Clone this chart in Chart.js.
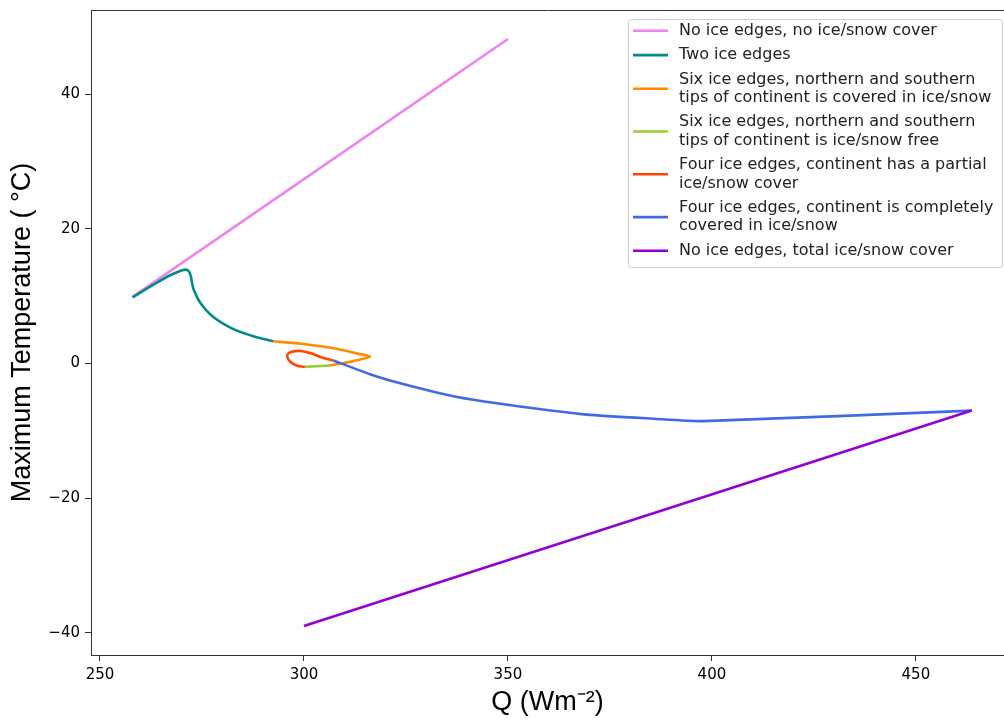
<!DOCTYPE html>
<html>
<head>
<meta charset="utf-8">
<script src="https://cdn.jsdelivr.net/npm/chart.js@4.4.1/dist/chart.umd.min.js"></script>
<style>
  html, body { margin: 0; padding: 0; background: #fff; }
  canvas { display: block; }
</style>
</head>
<body>
<canvas id="myChart" width="1004" height="720"></canvas>
<script>
// series labels (legend), wrapped like the original
const seriesLabels = [
  ["No ice edges, no ice/snow cover"],
  ["Two ice edges"],
  ["Six ice edges, northern and southern", "tips of continent is covered in ice/snow"],
  ["Six ice edges, northern and southern", "tips of continent is ice/snow free"],
  ["Four ice edges, continent has a partial", "ice/snow cover"],
  ["Four ice edges, continent is completely", "covered in ice/snow"],
  ["No ice edges, total ice/snow cover"]
];
const seriesColors = ['#ee82ee', '#008b8b', '#ff8c00', '#9acd32', '#ff4500', '#4169e1', '#9400d3'];
const seriesTension = [0, 0.3, 0.2, 0, 0.4, 0.2, 0];

// Q (W m-2) and max temperature (C)
const pinkQ = [258.0, 350.0];
const pinkT = [9.9, 48.2];

const tealQ = [258.0, 263.1, 267.2, 270.4, 271.6, 272.2, 272.5, 272.9, 274.5, 277.8, 282.7, 287.6, 292.5];
const tealT = [9.8, 11.7, 13.1, 13.9, 13.8, 13.1, 12.2, 11.1, 9.1, 6.9, 5.1, 4.05, 3.3];

const orangeQ = [292.5, 299.8, 308.0, 312.9, 316.2, 312.1, 308.8, 306.4];
const orangeT = [3.3, 2.9, 2.2, 1.5, 1.0, 0.35, -0.05, -0.3];

const greenQ = [306.4, 300.2];
const greenT = [-0.3, -0.5];

const redQ = [300.2, 298.2, 296.6, 295.9, 296.2, 297.4, 299.3, 301.5, 303.9, 305.8, 307.2];
const redT = [-0.5, -0.3, 0.3, 1.0, 1.5, 1.8, 1.85, 1.55, 1.0, 0.65, 0.45];

const blueQ = [307.2, 316.2, 322.7, 332.5, 341.5, 352.9, 369.3, 385.6, 397.9, 463.7];
const blueT = [0.45, -1.6, -2.8, -4.3, -5.4, -6.4, -7.6, -8.2, -8.56, -7.0];

const purpleQ = [300.0, 463.7];
const purpleT = [-39.0, -7.0];

const allQ = [pinkQ, tealQ, orangeQ, greenQ, redQ, blueQ, purpleQ];
const allT = [pinkT, tealT, orangeT, greenT, redT, blueT, purpleT];

const datasets = allQ.map((qs, i) => ({
  label: seriesLabels[i].join(' '),
  data: qs.map((q, j) => ({ x: q, y: allT[i][j] })),
  borderColor: seriesColors[i],
  backgroundColor: seriesColors[i],
  borderWidth: 2.6,
  showLine: true,
  pointRadius: 0,
  tension: seriesTension[i],
  order: allQ.length - i   // later series on top, like matplotlib
}));

const minus = v => String(v).replace('-', '\u2212');

// top spine (left/bottom come from the axis borders)
const frame = {
  id: 'frame',
  afterDatasetsDraw(chart) {
    const { ctx, chartArea } = chart;
    ctx.save();
    ctx.strokeStyle = '#333';
    ctx.lineWidth = 1;
    ctx.beginPath();
    ctx.moveTo(chartArea.left, chartArea.top + 0.5);
    ctx.lineTo(chartArea.right, chartArea.top + 0.5);
    ctx.stroke();
    ctx.restore();
  }
};

// matplotlib style legend box with multi line labels
const boxLegend = {
  id: 'boxLegend',
  afterDraw(chart) {
    const ctx = chart.ctx;
    const left = 628, top = 19, w = 374, h = 248;
    ctx.save();
    ctx.fillStyle = 'rgba(255,255,255,0.8)';
    ctx.strokeStyle = '#cccccc';
    ctx.lineWidth = 1;
    ctx.beginPath();
    ctx.roundRect(left + 0.5, top + 0.5, w, h, 3);
    ctx.fill();
    ctx.stroke();

    ctx.font = '16px "DejaVu Sans"';
    ctx.textBaseline = 'middle';
    ctx.fillStyle = '#222';
    let y = 30.7;
    seriesLabels.forEach((lines, i) => {
      const first = y;
      lines.forEach((t, k) => {
        if (k > 0) y += 18.4;
        ctx.fillText(t, 679, y);
      });
      const mid = (first + y) / 2;
      ctx.strokeStyle = seriesColors[i];
      ctx.lineWidth = 2.6;
      ctx.beginPath();
      ctx.moveTo(633, mid);
      ctx.lineTo(668, mid);
      ctx.stroke();
      y += 24.4;
    });
    ctx.restore();
  }
};

new Chart(document.getElementById('myChart'), {
  type: 'scatter',
  data: { datasets: datasets },
  options: {
    responsive: false,
    animation: false,
    devicePixelRatio: 1,
    layout: { padding: { top: 10, right: 0, left: 0, bottom: 0 } },
    plugins: { legend: { display: false }, tooltip: { enabled: false } },
    scales: {
      x: {
        type: 'linear',
        min: 247.8,
        max: 471.6,
        ticks: { stepSize: 50, includeBounds: false, color: '#000', padding: 5,
                 font: { family: 'DejaVu Sans', size: 15 }, callback: minus },
        grid: { drawOnChartArea: false, color: '#333', tickLength: 6 },
        border: { color: '#333', width: 1 },
        title: { display: true, text: 'Q (Wm\u207B\u00B2)', color: '#000',
                 font: { family: 'Liberation Sans', size: 27 }, padding: { top: 2, bottom: 1 } },
        afterFit(scale) { scale.height = 65; scale.paddingLeft = 0; scale.paddingRight = 0; }
      },
      y: {
        type: 'linear',
        min: -43.3,
        max: 52.5,
        ticks: { stepSize: 20, includeBounds: false, color: '#000', padding: 5,
                 font: { family: 'DejaVu Sans', size: 15 }, callback: minus },
        grid: { drawOnChartArea: false, color: '#333', tickLength: 6 },
        border: { color: '#333', width: 1 },
        title: { display: true, text: 'Maximum Temperature ( \u00B0C)', color: '#000',
                 font: { family: 'Liberation Sans', size: 27 }, padding: { top: 6, bottom: 4 } },
        afterFit(scale) { scale.width = 91; scale.paddingTop = 0; scale.paddingBottom = 0; }
      }
    }
  },
  plugins: [frame, boxLegend]
});
</script>
</body>
</html>
